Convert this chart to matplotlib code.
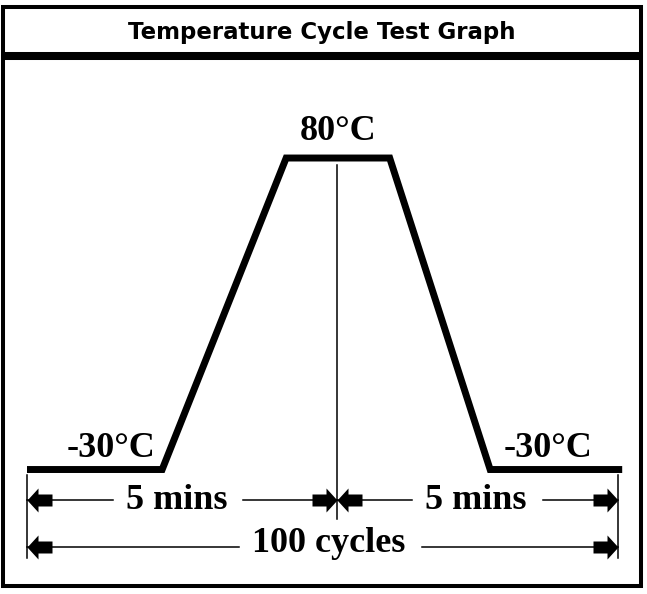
import matplotlib
matplotlib.use("Agg")
import matplotlib.pyplot as plt
from matplotlib.path import Path
from matplotlib.patches import Rectangle
from matplotlib.transforms import blended_transform_factory

# one temperature cycle: time (minutes) and chamber temperature (deg C)
times = [0, 2.18, 4.18, 5.85, 7.47, 9.60]
temps = [-30, -30, 80, 80, -30, -30]

title = "Temperature Cycle Test Graph"
hot_label = "80°C"
cold_label = "-30°C"
half_label = "5 mins"
total_label = "100 cycles"

# dimension marks along the time axis (minutes)
t_start, t_mid, t_end = 0, 5, 9.53

W, H = 647, 594
fig = plt.figure(figsize=(W / 100, H / 100), dpi=100)

# pixel axes for frames / rows of the dimension marks
px = fig.add_axes([0, 0, 1, 1])
px.set_xlim(0, W)
px.set_ylim(H, 0)
px.axis("off")

# data axes: minutes vs deg C
ax = fig.add_axes([0, 0, 1, 1])
ax.set_xlim(-27 / 62, (W - 27) / 62)
ax.set_ylim(-73.96, 135.8)
ax.axis("off")

bt = blended_transform_factory(ax.transData, px.transData)

# frames
px.add_patch(Rectangle((3, 7), 638, 47, fill=False, lw=2.9, ec="black"))
px.add_patch(Rectangle((3, 58), 638, 528, fill=False, lw=2.9, ec="black"))
px.text(322, 39, title, ha="center", va="baseline", fontsize=16.5,
        fontweight="bold", family="DejaVu Sans")

# profile
ax.plot(times, temps, color="black", lw=5, solid_joinstyle="miter",
        solid_capstyle="butt")

serif = dict(family="Liberation Serif", fontweight="bold", fontsize=26)
ax.annotate(hot_label, xy=((times[2] + times[3]) / 2, temps[2]),
            xytext=(0, 18), textcoords="offset pixels", ha="center",
            va="baseline", **serif)
ax.annotate(cold_label, xy=(1.36, temps[0]), xytext=(0, 13),
            textcoords="offset pixels", ha="center", va="baseline", **serif)
ax.annotate(cold_label, xy=(8.40, temps[-1]), xytext=(0, 13),
            textcoords="offset pixels", ha="center", va="baseline", **serif)

thin = dict(color="black", lw=1.1, transform=bt)
ax.plot([t_mid, t_mid], [165, 519], **thin)
ax.plot([t_start, t_start], [475, 558], **thin)
ax.plot([t_end, t_end], [475, 558], **thin)

head = [(0, 0), (-11, 12), (-11, 6), (-25, 6), (-25, -6), (-11, -6), (-11, -12), (0, 0)]
right_arrow = Path(head, closed=True)
left_arrow = Path([(-x, y) for x, y in head], closed=True)

renderer = fig.canvas.get_renderer()
inv = ax.transData.inverted()


def dim_row(a, b, y, label, xc, base):
    t = ax.text(xc, base, label, ha="center", va="baseline", transform=bt, **serif)
    bb = t.get_window_extent(renderer=renderer).transformed(inv)
    g0, g1 = 13 / 62, 16 / 62
    ax.plot([a, bb.x0 - g0], [y, y], **thin)
    ax.plot([bb.x1 + g1, b], [y, y], **thin)
    ax.plot([a], [y], marker=left_arrow, ms=36, mew=0, color="black", transform=bt)
    ax.plot([b], [y], marker=right_arrow, ms=36, mew=0, color="black", transform=bt)


dim_row(t_start, t_mid, 500, half_label, 2.41, 509)
dim_row(t_mid, t_end, 500, half_label, 7.24, 509)
dim_row(t_start, t_end, 547, total_label, 4.87, 552)

fig.savefig("out.png", dpi=100)
